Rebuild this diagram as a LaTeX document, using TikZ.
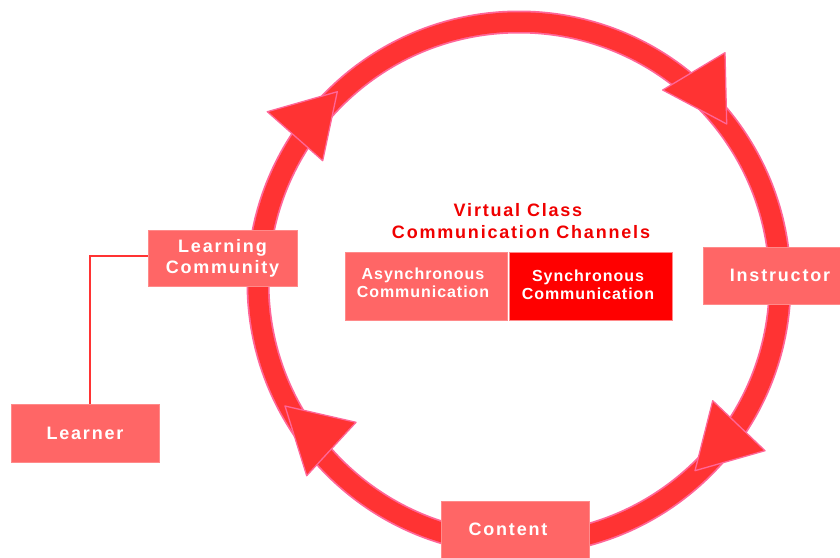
\documentclass[tikz,border=0pt]{standalone}
\usepackage{fontspec}
\newfontfamily\lbl{Liberation Sans}[LetterSpace=10]
\newfontfamily\lbls{Liberation Sans}[LetterSpace=6]
\definecolor{ringred}{HTML}{FF3333}
\definecolor{edgepink}{HTML}{FF6699}
\definecolor{boxfill}{HTML}{FF6666}
\definecolor{boxedge}{HTML}{FF8A8A}
\definecolor{syncfill}{HTML}{FF0000}
\definecolor{titlered}{HTML}{F00000}
\tikzset{
  box/.style={rectangle, fill=boxfill, draw=boxedge, line width=0.8pt, inner sep=0pt},
  boxlabel/.style={text=white, font=\lbl\bfseries\fontsize{18}{21}\selectfont, align=center, inner sep=0pt},
  chanlabel/.style={text=white, font=\lbls\bfseries\fontsize{16}{18.5}\selectfont, align=center, inner sep=0pt},
  titlelabel/.style={text=titlered, font=\lbl\bfseries\fontsize{18}{21.5}\selectfont, align=center, inner sep=0pt},
  arrowhead/.style={fill=ringred, draw=edgepink, line width=1.3pt, line join=round},
  link/.style={draw=ringred, line width=1.1pt}
}
\begin{document}
\begin{tikzpicture}[x=1pt, y=-1pt]
\clip (0,0) rectangle (840,557);
\fill[white] (0,0) rectangle (840,557);
% ring
\coordinate (ringc) at (519,283);
\draw[edgepink, line width=23pt] (ringc) circle[radius=261pt];
\draw[ringred, line width=19.5pt] (ringc) circle[radius=261pt];
% arrowheads on the ring
\filldraw[arrowhead] (267.3,111.7) -- (337.3,91.7) -- (322.7,160.7) -- cycle;
\filldraw[arrowhead] (662.7,90) -- (725,52.7) -- (726.7,124) -- cycle;
\filldraw[arrowhead] (285,406) -- (356,422.3) -- (306.7,475.7) -- cycle;
\filldraw[arrowhead] (712.7,400.7) -- (765,450.7) -- (695,470.7) -- cycle;
% boxes on the ring
\node[box, minimum width=149pt, minimum height=56pt] (lc) at (222.5,258) {};
\node[boxlabel] (lctext) at (222.5,258) {Learning\\Community};
\node[box, minimum width=154pt, minimum height=57pt] (instr) at (780,275.5) {};
\node[boxlabel] (instrtext) at (780,275) {Instructor};
\node[box, minimum width=148pt, minimum height=58pt] (content) at (515,530) {};
\node[boxlabel] (contenttext) at (508,529) {Content};
\node[box, minimum width=148pt, minimum height=58pt] (learner) at (85,433) {};
\node[boxlabel] (learnertext) at (85,433) {Learner};
% connector
\coordinate (bend) at (90,256);
\draw[link] (lc.west |- bend) -- (bend) -- (bend |- learner.north);
% centre title and channels
\node[titlelabel] (title) at (518,221) {Virtual Class\\ \hspace*{6pt}Communication Channels};
\node[box, minimum width=162pt, minimum height=68pt] (async) at (426,286) {};
\node[chanlabel] (asynctext) at (423,283) {Asynchronous\\Communication};
\node[box, fill=syncfill, minimum width=163pt, minimum height=68pt] (sync) at (590.5,286) {};
\node[chanlabel] (synctext) at (588,285) {Synchronous\\Communication};
\end{tikzpicture}
\end{document}
